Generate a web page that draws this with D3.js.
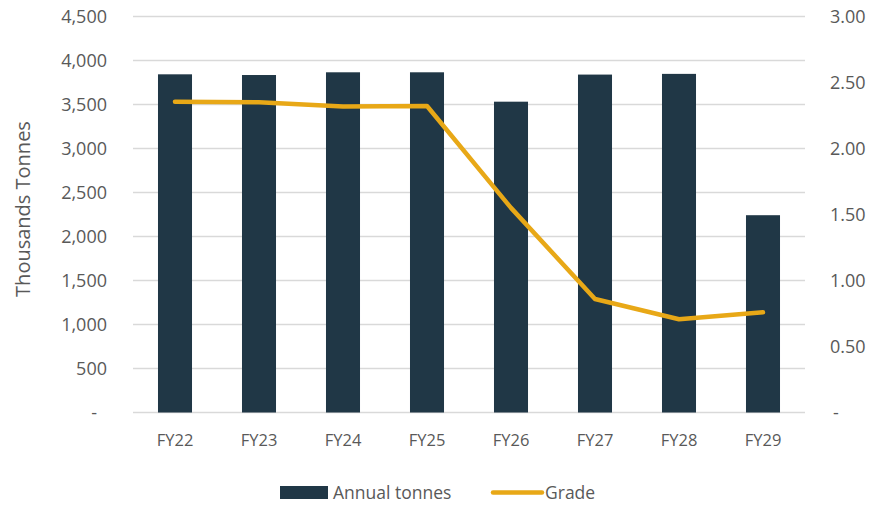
<!DOCTYPE html>
<meta charset="utf-8">
<style>
    body { margin: 0; background: white; }
    svg { display: block; font-family: "Open Sans", sans-serif; }
    .tick text { fill: #595959; }
</style>
<svg width="874" height="508"></svg>
<script src="https://cdn.jsdelivr.net/npm/d3@7"></script>
<script>
    var years = ["FY22", "FY23", "FY24", "FY25", "FY26", "FY27", "FY28", "FY29"];
    var tonnes = [3843, 3835, 3866, 3866, 3532, 3840, 3848, 2242];
    var grade = [2.355, 2.35, 2.318, 2.322, 1.55, 0.86, 0.706, 0.759];
    var leftTicks = [0, 500, 1000, 1500, 2000, 2500, 3000, 3500, 4000, 4500];
    var rightTicks = [0, 0.5, 1, 1.5, 2, 2.5, 3];

    var svg = d3.select("svg"),
        plotLeft = 133, plotRight = 805, plotTop = 16.5, plotBottom = 412.5;

    var x = d3.scaleBand()
        .domain(years)
        .range([plotLeft, plotRight])
        .paddingInner(0.595)
        .paddingOuter(0.2975);

    var y = d3.scaleLinear().domain([0, 4500]).range([plotBottom, plotTop]);
    var y2 = d3.scaleLinear().domain([0, 3]).range([plotBottom, plotTop]);

    // gridlines
    svg.append("g")
        .selectAll("line")
        .data(leftTicks)
        .enter().append("line")
        .attr("x1", plotLeft)
        .attr("x2", plotRight)
        .attr("y1", function(d) { return y(d); })
        .attr("y2", function(d) { return y(d); })
        .style("stroke", "#d9d9d9")
        .style("stroke-width", 1.5);

    // left axis
    var yAxis = svg.append("g")
        .attr("transform", "translate(107,0)")
        .call(d3.axisLeft(y).tickValues(leftTicks).tickSize(0).tickPadding(0)
            .tickFormat(function(d) { return d === 0 ? "-" : d3.format(",")(d); }))
        .attr("font-family", null);
    yAxis.select(".domain").remove();
    yAxis.selectAll("text").style("font-size", "18px").attr("dy", "0.35em");
    yAxis.selectAll("text").filter(function(d) { return d === 0; }).attr("x", -10);

    // right axis
    var y2Axis = svg.append("g")
        .attr("transform", "translate(830,0)")
        .call(d3.axisRight(y2).tickValues(rightTicks).tickSize(0).tickPadding(0)
            .tickFormat(function(d) { return d === 0 ? "-" : d3.format(".2f")(d); }))
        .attr("font-family", null);
    y2Axis.select(".domain").remove();
    y2Axis.selectAll("text").style("font-size", "18px").attr("dy", "0.35em");
    y2Axis.selectAll("text").filter(function(d) { return d === 0; }).attr("x", 3);

    // x axis
    var xAxis = svg.append("g")
        .attr("transform", "translate(0," + plotBottom + ")")
        .call(d3.axisBottom(x).tickSize(0).tickPadding(22))
        .attr("font-family", null);
    xAxis.select(".domain").remove();
    xAxis.selectAll("text").style("font-size", "16.5px");

    // axis title
    svg.append("text")
        .attr("transform", "translate(30,209) rotate(-90)")
        .attr("text-anchor", "middle")
        .style("font-size", "20px")
        .style("fill", "#595959")
        .text("Thousands Tonnes");

    // bars
    svg.append("g")
        .selectAll("rect")
        .data(tonnes)
        .enter().append("rect")
        .attr("x", function(d, i) { return x(years[i]); })
        .attr("y", function(d) { return y(d); })
        .attr("width", x.bandwidth())
        .attr("height", function(d) { return plotBottom - y(d); })
        .style("fill", "#203746");

    // grade line
    var line = d3.line()
        .x(function(d, i) { return x(years[i]) + x.bandwidth() / 2; })
        .y(function(d) { return y2(d); });

    svg.append("path")
        .datum(grade)
        .attr("d", line)
        .style("fill", "none")
        .style("stroke", "#E8A817")
        .style("stroke-width", 4.5)
        .style("stroke-linejoin", "round")
        .style("stroke-linecap", "round");

    // legend
    var legend = svg.append("g");
    legend.append("rect")
        .attr("x", 280).attr("y", 486)
        .attr("width", 48).attr("height", 13)
        .style("fill", "#203746");
    legend.append("text")
        .attr("x", 333).attr("y", 492.5)
        .attr("dy", "0.35em")
        .style("font-size", "17.5px")
        .style("fill", "#595959")
        .text("Annual tonnes");
    legend.append("line")
        .attr("x1", 493).attr("x2", 542)
        .attr("y1", 492.5).attr("y2", 492.5)
        .style("stroke", "#E8A817")
        .style("stroke-width", 4.5)
        .style("stroke-linecap", "round");
    legend.append("text")
        .attr("x", 545).attr("y", 492.5)
        .attr("dy", "0.35em")
        .style("font-size", "17.5px")
        .style("fill", "#595959")
        .text("Grade");
</script>
